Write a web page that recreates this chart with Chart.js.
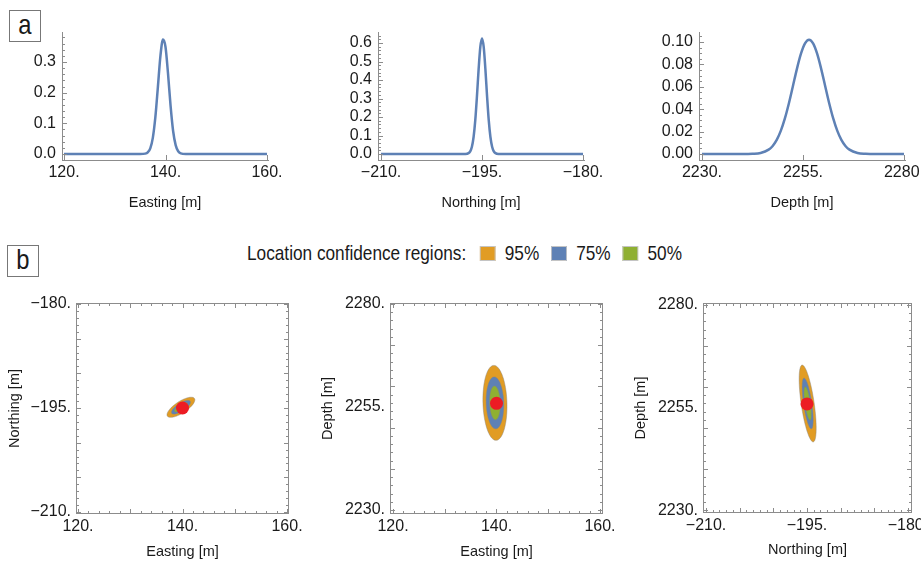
<!DOCTYPE html>
<html>
<head>
<meta charset="utf-8">
<script src="https://cdn.jsdelivr.net/npm/chart.js@4.4.1/dist/chart.umd.min.js"></script>
<style>
  body { margin: 0; background: #fff; width: 921px; height: 565px; overflow: hidden; position: relative;
         font-family: 'Liberation Sans', Arial, sans-serif; color: #1a1a1a; }
  canvas { position: absolute; }
  .tag { position: absolute; width: 32px; height: 32px; box-sizing: border-box; border: 1px solid #777;
         font-size: 28px; line-height: 28px; text-align: center; }
  .tag span { display: inline-block; transform: scaleX(0.85); }
  #legend { position: absolute; left: 247px; top: 241px; display: flex; align-items: center;
            font-size: 21px; white-space: nowrap; transform: scaleX(0.82); transform-origin: 0 0; }
  #legend .sw { width: 19px; height: 15px; box-sizing: border-box; border: 1px solid #c4c4c4; margin: 0 11px 0 0; }
  #legend .lab { margin-right: 15px; }
</style>
</head>
<body>
<div class="tag" style="left:9px;top:10px"><span>a</span></div>
<div class="tag" style="left:7px;top:245px"><span>b</span></div>
<div id="legend"></div>

<canvas id="pE" width="300" height="220" style="left:0;top:0"></canvas>
<canvas id="pN" width="320" height="220" style="left:300px;top:0"></canvas>
<canvas id="pD" width="301" height="220" style="left:620px;top:0"></canvas>
<canvas id="rEN" width="310" height="275" style="left:0;top:290px"></canvas>
<canvas id="rED" width="310" height="275" style="left:310px;top:290px"></canvas>
<canvas id="rND" width="301" height="275" style="left:620px;top:290px"></canvas>

<script>
// marginal probability densities
const EASTING = [120, 135, 136, 136.5, 137, 137.5, 138, 138.5, 139, 139.5, 140, 140.5, 141, 141.5, 142, 142.5, 143, 144, 160];
const EASTING_PDF = [0, 0, 0.0012, 0.0052, 0.0185, 0.0527, 0.120, 0.219, 0.320, 0.373, 0.349, 0.261, 0.157, 0.075, 0.0289, 0.0089, 0.0022, 0.0001, 0];

const NORTHING = [-210, -198, -197.5, -197, -196.75, -196.5, -196.25, -196, -195.75, -195.5, -195.25, -195,
                  -194.75, -194.5, -194.25, -194, -193.75, -193.5, -193.25, -193, -192.5, -192, -180];
const NORTHING_PDF = [0, 0, 0.0003, 0.0046, 0.0146, 0.0395, 0.092, 0.183, 0.313, 0.460, 0.579, 0.625,
                      0.579, 0.460, 0.313, 0.183, 0.092, 0.0395, 0.0146, 0.0046, 0.0003, 0, 0];

const DEPTH = [2230, 2240, 2242.5, 2244.5, 2246.5, 2247.5, 2248.5, 2249.5, 2250.5, 2251.5, 2252.5, 2253.5, 2254.5, 2255.5,
               2256.5, 2257.5, 2258.5, 2259.5, 2260.5, 2261.5, 2262.5, 2263.5, 2264.5, 2265.5, 2266.5, 2268.5, 2270.5, 2273, 2280];
const DEPTH_PDF = [0, 0, 0.0002, 0.0009, 0.0039, 0.0072, 0.0126, 0.0206, 0.0315, 0.0451, 0.0605, 0.0760, 0.0895, 0.0987,
                   0.102, 0.0987, 0.0895, 0.0760, 0.0605, 0.0451, 0.0315, 0.0206, 0.0126, 0.0072, 0.0039, 0.0009, 0.0002, 0, 0];

// confidence regions
const LEVELS = ['95%', '75%', '50%'];
const LEVEL_COLORS = ['#e19c24', '#5e81b5', '#8fb032'];
const REGION_CENTER = [139.7, -194.9, 2256.0];   // easting, northing, depth
const HYPOCENTER = [140.0, -195.0, 2255.9];

const EN_SEMI_MAJOR = [2.9, 1.97, 1.36];
const EN_SEMI_MINOR = [0.9, 0.61, 0.42];
const EN_ANGLE = 24.5;
const ED_SEMI_MAJOR = [9.1, 6.3, 4.1];
const ED_SEMI_MINOR = [2.32, 1.7, 1.05];
const ED_ANGLE = 91.4;
const ND_SEMI_MAJOR = [9.4, 6.2, 4.1];
const ND_SEMI_MINOR = [0.97, 0.62, 0.42];
const ND_ANGLE = 95;

// tick labels
const EASTING_TICKS = [120, 140, 160];
const NORTHING_TICKS = [-210, -195, -180];
const DEPTH_TICKS = [2230, 2255, 2280];
const PDF_E_TICKS = [0, 0.1, 0.2, 0.3];
const PDF_N_TICKS = [0, 0.1, 0.2, 0.3, 0.4, 0.5, 0.6];
const PDF_D_TICKS = [0, 0.02, 0.04, 0.06, 0.08, 0.10];

const LINE_BLUE = '#5e81b5';
const RED = '#ec1c24';
const TICK_FONT = {family: "'Liberation Sans', Arial, sans-serif", size: 16};
const TITLE_FONT = {family: "'Liberation Sans', Arial, sans-serif", size: 14.5};

// legend
const legend = document.getElementById('legend');
legend.innerHTML = '<span style="margin-right:17px">Location confidence regions:</span>' +
  LEVELS.map((l, i) => `<span class="sw" style="background:${LEVEL_COLORS[i]}"></span><span class="lab">${l}</span>`).join('');

function steps(from, to, step) {
  const out = [];
  for (let v = from; v <= to + 1e-9; v += step) out.push(+v.toFixed(6));
  return out;
}

const fmtAxis = v => (v < 0 ? '\u2212' : '') + Math.abs(v) + '.';

// small inward ticks (and frame) like the original plots
const innerTicks = {
  id: 'innerTicks',
  afterDatasetsDraw(chart, args, o) {
    const {ctx, chartArea: a, scales: {x, y}} = chart;
    ctx.save();
    ctx.strokeStyle = '#8c8c8c';
    ctx.lineWidth = 1;
    if (o.frame) ctx.strokeRect(a.left + 0.5, a.top + 0.5, a.right - a.left - 1, a.bottom - a.top - 1);
    ctx.beginPath();
    const mark = (scale, values, len) => values.forEach(v => {
      const p = Math.round(scale.getPixelForValue(v)) + 0.5;
      if (scale.isHorizontal()) {
        if (p < a.left || p > a.right) return;
        ctx.moveTo(p, a.bottom); ctx.lineTo(p, a.bottom - len);
        if (o.frame) { ctx.moveTo(p, a.top); ctx.lineTo(p, a.top + len); }
      } else {
        if (p < a.top || p > a.bottom) return;
        ctx.moveTo(a.left, p); ctx.lineTo(a.left + len, p);
        if (o.frame) { ctx.moveTo(a.right, p); ctx.lineTo(a.right - len, p); }
      }
    });
    mark(x, o.xMajor || [], 5); mark(x, o.xMinor || [], 3);
    mark(y, o.yMajor || [], 5); mark(y, o.yMinor || [], 3);
    ctx.stroke();
    ctx.restore();
  }
};

// filled confidence ellipses, drawn through the chart scales
const regions = {
  id: 'regions',
  beforeDatasetsDraw(chart, args, o) {
    if (!o.a) return;
    const {ctx, chartArea: area, scales: {x, y}} = chart;
    const th = o.angle * Math.PI / 180, c = Math.cos(th), s = Math.sin(th);
    ctx.save();
    ctx.beginPath(); ctx.rect(area.left, area.top, area.right - area.left, area.bottom - area.top); ctx.clip();
    o.a.forEach((a, i) => {
      const b = o.b[i];
      ctx.beginPath();
      for (let k = 0; k <= 120; k++) {
        const t = k / 120 * 2 * Math.PI;
        const ex = o.cx + a * Math.cos(t) * c - b * Math.sin(t) * s;
        const ey = o.cy + a * Math.cos(t) * s + b * Math.sin(t) * c;
        const px = x.getPixelForValue(ex), py = y.getPixelForValue(ey);
        if (k) ctx.lineTo(px, py); else ctx.moveTo(px, py);
      }
      ctx.closePath();
      ctx.fillStyle = LEVEL_COLORS[i];
      ctx.fill();
      ctx.strokeStyle = 'rgba(130,130,130,0.55)';
      ctx.lineWidth = 0.8;
      ctx.stroke();
    });
    ctx.restore();
  }
};

function axis(cfg) {
  return {
    type: 'linear',
    position: cfg.pos,
    min: cfg.min, max: cfg.max,
    afterBuildTicks: s => { s.ticks = cfg.labels.map(v => ({value: v})); },
    afterFit: s => {
      if (cfg.pos === 'bottom') s.height = cfg.size; else s.width = cfg.size;
      s.paddingLeft = s.paddingRight = s.paddingTop = s.paddingBottom = 0;
    },
    grid: {display: false, drawTicks: false},
    border: {display: !!cfg.border, color: '#8c8c8c', width: 1},
    ticks: {autoSkip: false, maxRotation: 0, padding: cfg.pad, color: '#1a1a1a', font: TICK_FONT,
            callback: cfg.fmt},
    title: {display: !!cfg.title, text: cfg.title, color: '#1a1a1a', font: TITLE_FONT,
            padding: {top: cfg.tpad, bottom: cfg.tpad}}
  };
}

function marginal(id, xs, ys, o) {
  new Chart(document.getElementById(id), {
    type: 'line',
    data: {datasets: [{data: xs.map((x, i) => ({x, y: ys[i]})), borderColor: LINE_BLUE, borderWidth: 2.5,
                       pointRadius: 0, cubicInterpolationMode: 'monotone', fill: false}]},
    options: {
      responsive: false, animation: false, events: [],
      layout: {padding: {left: 0, right: o.padRight, top: 32, bottom: 0}},
      plugins: {legend: {display: false}, tooltip: {enabled: false},
                innerTicks: {xMajor: o.xLabels, yMajor: o.yLabels, yMinor: o.yMinor}},
      scales: {
        x: axis({pos: 'bottom', min: o.xMin, max: o.xMax, labels: o.xLabels, size: 60, pad: 3,
                 border: true, fmt: fmtAxis, title: o.title, tpad: 8}),
        y: axis({pos: 'left', min: o.yMin, max: o.yMax, labels: o.yLabels, size: o.yWidth, pad: 6,
                 border: true, fmt: v => v.toFixed(o.dec), title: '', tpad: 0})
      }
    },
    plugins: [innerTicks]
  });
}

marginal('pE', EASTING, EASTING_PDF, {padRight: 32, yWidth: 62, xMin: 119.6, xMax: 160.2, yMin: -0.0196, yMax: 0.3978,
  xLabels: EASTING_TICKS, yLabels: PDF_E_TICKS, yMinor: steps(0, 0.38, 0.02), dec: 1, title: 'Easting [m]'});
marginal('pN', NORTHING, NORTHING_PDF, {padRight: 36, yWidth: 78, xMin: -210.45, xMax: -179.85, yMin: -0.0324, yMax: 0.6595,
  xLabels: NORTHING_TICKS, yLabels: PDF_N_TICKS, yMinor: steps(0, 0.64, 0.02), dec: 1, title: 'Northing [m]'});
marginal('pD', DEPTH, DEPTH_PDF, {padRight: 16, yWidth: 79, xMin: 2229.26, xMax: 2280.25, yMin: -0.00536, yMax: 0.1089,
  xLabels: DEPTH_TICKS, yLabels: PDF_D_TICKS, yMinor: steps(0, 0.105, 0.005), dec: 2, title: 'Depth [m]'});

function regionPlot(id, o) {
  new Chart(document.getElementById(id), {
    type: 'scatter',
    data: {datasets: [{data: [{x: o.px, y: o.py}], pointRadius: 6.5, backgroundColor: RED, borderWidth: 0}]},
    options: {
      responsive: false, animation: false, events: [],
      layout: {padding: {left: 0, right: o.padRight, top: 13, bottom: 0}},
      plugins: {legend: {display: false}, tooltip: {enabled: false},
                regions: {cx: o.cx, cy: o.cy, a: o.a, b: o.b, angle: o.angle},
                innerTicks: {frame: true, xMajor: o.xMajor, xMinor: o.xMinor, yMajor: o.yMajor, yMinor: o.yMinor}},
      scales: {
        x: axis({pos: 'bottom', min: o.xMin, max: o.xMax, labels: o.xLabels, size: o.xHeight, pad: 3,
                 fmt: fmtAxis, title: o.xTitle, tpad: o.xtpad}),
        y: axis({pos: 'left', min: o.yMin, max: o.yMax, labels: o.yLabels, size: o.yWidth, pad: 5,
                 fmt: fmtAxis, title: o.yTitle, tpad: o.ytpad})
      }
    },
    plugins: [regions, innerTicks]
  });
}

regionPlot('rEN', {padRight: 21, yWidth: 76, xHeight: 51, ytpad: 6, xtpad: 4,
  xMin: 119.62, xMax: 160.38, yMin: -210.29, yMax: -179.86,
  xLabels: EASTING_TICKS, yLabels: NORTHING_TICKS, xTitle: 'Easting [m]', yTitle: 'Northing [m]',
  xMajor: steps(120, 160, 10), xMinor: steps(120, 160, 2), yMajor: steps(-210, -180, 5), yMinor: steps(-210, -180, 1),
  cx: REGION_CENTER[0], cy: REGION_CENTER[1], a: EN_SEMI_MAJOR, b: EN_SEMI_MINOR, angle: EN_ANGLE,
  px: HYPOCENTER[0], py: HYPOCENTER[1]});
regionPlot('rED', {padRight: 17, yWidth: 80, xHeight: 51, ytpad: 9, xtpad: 4,
  xMin: 119.42, xMax: 160.58, yMin: 2229.03, yMax: 2280.24,
  xLabels: EASTING_TICKS, yLabels: DEPTH_TICKS, xTitle: 'Easting [m]', yTitle: 'Depth [m]',
  xMajor: steps(120, 160, 10), xMinor: steps(120, 160, 2), yMajor: steps(2230, 2280, 10), yMinor: steps(2230, 2280, 2),
  cx: REGION_CENTER[0], cy: REGION_CENTER[2], a: ED_SEMI_MAJOR, b: ED_SEMI_MINOR, angle: ED_ANGLE,
  px: HYPOCENTER[0], py: HYPOCENTER[2]});
regionPlot('rND', {padRight: 9, yWidth: 83, xHeight: 52, ytpad: 12, xtpad: 6,
  xMin: -210.45, xMax: -179.4, yMin: 2229.3, yMax: 2280.5,
  xLabels: NORTHING_TICKS, yLabels: DEPTH_TICKS, xTitle: 'Northing [m]', yTitle: 'Depth [m]',
  xMajor: steps(-210, -180, 5), xMinor: steps(-210, -180, 1), yMajor: steps(2230, 2280, 10), yMinor: steps(2230, 2280, 2),
  cx: REGION_CENTER[1], cy: REGION_CENTER[2], a: ND_SEMI_MAJOR, b: ND_SEMI_MINOR, angle: ND_ANGLE,
  px: HYPOCENTER[1], py: HYPOCENTER[2]});
</script>
</body>
</html>
